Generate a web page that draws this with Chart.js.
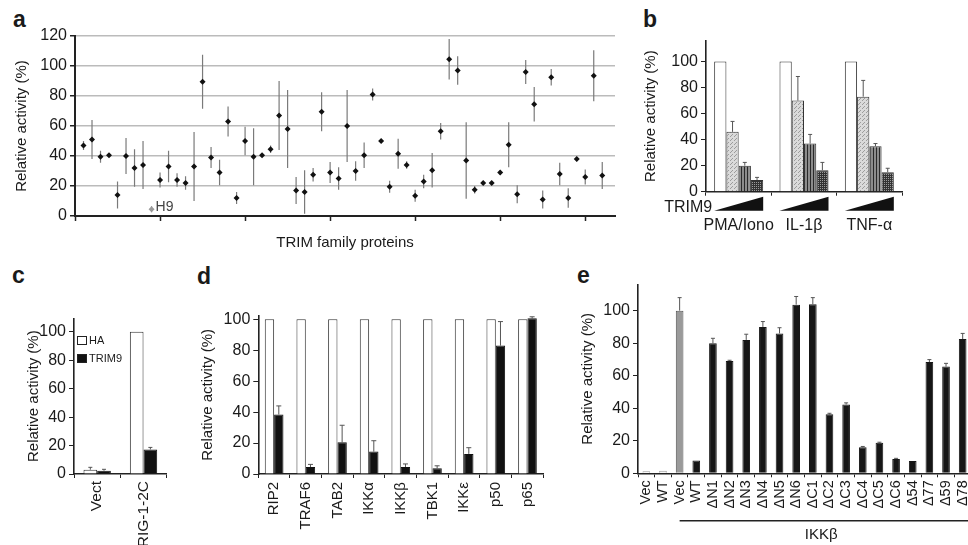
<!DOCTYPE html>
<html>
<head>
<meta charset="utf-8">
<script src="https://cdn.jsdelivr.net/npm/chart.js@4.4.0/dist/chart.umd.min.js"></script>
<style>
html, body { margin: 0; padding: 0; background: #fff; overflow: hidden; width: 968px; height: 545px; }
body { position: relative; font-family: "Liberation Sans", Arial, sans-serif; color: #1a1a1a; }
canvas { position: absolute; }
.lbl { position: absolute; font-weight: bold; font-size: 23px; line-height: 23px; }
.leg { position: absolute; font-size: 11px; line-height: 11px; display: flex; align-items: center; }
.leg i { display: inline-block; width: 8px; height: 7px; border: 1px solid #222; margin-right: 2px; }
</style>
</head>
<body>
<div class="lbl" style="left:13px;top:8px">a</div>
<div class="lbl" style="left:643px;top:8px">b</div>
<div class="lbl" style="left:12px;top:264px">c</div>
<div class="lbl" style="left:197px;top:265px">d</div>
<div class="lbl" style="left:577px;top:264px">e</div>

<canvas id="ca" style="left:0;top:0" width="630" height="252"></canvas>
<canvas id="cb" style="left:630px;top:0" width="338" height="250"></canvas>
<canvas id="cc" style="left:0;top:260px" width="180" height="285"></canvas>
<canvas id="cd" style="left:170px;top:260px" width="380" height="285"></canvas>
<canvas id="ce" style="left:550px;top:260px" width="425" height="285"></canvas>

<div class="leg" style="left:77px;top:335px"><i style="background:#fff"></i>HA</div>
<div class="leg" style="left:77px;top:353px"><i style="background:#111"></i>TRIM9</div>

<script>
// panel a - TRIM screen
const aMeans = [47, 51, 39.5, 40.5, 14, 40, 32, 34, 4.5, 24, 33, 24, 22, 33, 89.5, 39, 29, 63, 12, 50,
  39.5, 40.5, 44.5, 67, 58, 17, 16, 27.5, 69.5, 29, 25, 60, 30, 40.5, 81, 50, 19.5, 41.5, 34, 13.5,
  23, 30.5, 56.5, 104.5, 97, 37, 17.5, 22, 22, 29, 47.5, 14.5, 96, 74.5, 11, 92.5, 28, 12, 38, 26, 93.5, 27];
const aErrs = [3, 13, 4, 1, 9, 12, 12.5, 16, 2, 5, 10.5, 4.5, 4.5, 23, 18, 7, 8.5, 10, 4, 9.5,
  19, 1, 2.5, 23, 26, 9, 14.5, 4.5, 13, 7, 7.5, 24, 6.5, 8.5, 4, 1, 4, 10, 2.5, 4,
  4.5, 11.5, 5.5, 13.5, 9.5, 25.5, 2.5, 1, 1, 1.5, 15, 6, 8, 11.5, 6, 5.5, 7.5, 6.5, 1.5, 5, 17, 9];
const aMarkIndex = 8;
const aMarkLabel = 'H9';

// panel b - TRIM9 dose
const bLabels = ['PMA/Iono', 'IL-1\u03b2', 'TNF-\u03b1'];
const bDose0 = [100, 100, 100];
const bDose1 = [46, 70, 73];
const bDose2 = [20, 37, 35];
const bDose3 = [9, 16.5, 15];
const bErr1 = [8, 18.5, 12.5];
const bErr2 = [2.5, 7, 2];
const bErr3 = [2, 6, 3];

// panel c
const cLabels = ['Vect', 'RIG-1-2C'];
const cHA = [3, 100];
const cTRIM9 = [2.3, 17.3];
const cHAErr = [1.7, 0];
const cTRIM9Err = [1, 1.4];

// panel d
const dLabels = ['RIP2', 'TRAF6', 'TAB2', 'IKK\u03b1', 'IKK\u03b2', 'TBK1', 'IKK\u03b5', 'p50', 'p65'];
const dHA = [100, 100, 100, 100, 100, 100, 100, 100, 100];
const dTRIM9 = [38.5, 4.5, 20.5, 14.5, 4.5, 3.7, 13, 83, 100.6];
const dTRIM9Err = [5.5, 1.7, 11, 7, 2, 1.6, 4, 15.5, 1];

// panel e - IKKb mutants
const eLabels = ['Vec', 'WT', 'Vec', 'WT', '\u0394N1', '\u0394N2', '\u0394N3', '\u0394N4', '\u0394N5', '\u0394N6',
  '\u0394C1', '\u0394C2', '\u0394C3', '\u0394C4', '\u0394C5', '\u0394C6', '\u039454', '\u039477', '\u039459', '\u039478'];
const eValues = [1.2, 1.5, 100, 7.8, 80, 69, 82, 90, 86, 103.7, 104, 36.3, 42.3, 16, 18.8, 8.8, 7.6, 68.4, 65.6, 82.5];
const eErrs = [0, 0, 8, 0, 3, 0.5, 3.5, 3.3, 3.5, 5, 4, 0.6, 1, 0.5, 0.3, 0.4, 0, 1.5, 2, 3.5];
const eGroupStart = 2;
const eGroupName = 'IKK\u03b2';

Chart.defaults.font.family = '"Liberation Sans", Arial, Helvetica, sans-serif';
Chart.defaults.font.size = 15;
Chart.defaults.color = '#1a1a1a';
Chart.defaults.animation = false;
Chart.defaults.plugins.legend.display = false;
Chart.defaults.plugins.tooltip.enabled = false;

const fixW = w => s => { s.width = w; s.paddingTop = 0; s.paddingBottom = 0; s.paddingLeft = 0; s.paddingRight = 0; };
const fixH = h => s => { s.height = h; s.paddingTop = 0; s.paddingBottom = 0; s.paddingLeft = 0; s.paddingRight = 0; };
const axisBorder = { color: '#222', width: 1.6 };
const yTicks = { stepSize: 20, includeBounds: false, padding: 3, font: { size: 16 } };
const yTitle = pad => ({ display: true, text: 'Relative activity (%)', color: '#1a1a1a', font: { size: 15 }, padding: { top: pad, bottom: 0 } });

// error bars from the data, drawn through the y scale
const errorBars = {
  id: 'errorBars',
  beforeDatasetsDraw(chart) {
    const ctx = chart.ctx, y = chart.scales.y;
    chart.data.datasets.forEach((ds, i) => {
      if (!ds.errors) return;
      const meta = chart.getDatasetMeta(i);
      ctx.save();
      ctx.strokeStyle = ds.errorColor || '#444';
      ctx.lineWidth = ds.errorWidth || 1;
      meta.data.forEach((el, j) => {
        const e = ds.errors[j];
        if (!e) return;
        const raw = ds.data[j];
        const v = typeof raw === 'object' ? raw.y : raw;
        const top = y.getPixelForValue(v + e);
        const bot = ds.errorBoth ? y.getPixelForValue(v - e) : el.y;
        ctx.beginPath();
        ctx.moveTo(el.x, bot);
        ctx.lineTo(el.x, top);
        if (ds.errorCap) {
          ctx.moveTo(el.x - ds.errorCap, top);
          ctx.lineTo(el.x + ds.errorCap, top);
        }
        ctx.stroke();
      });
      ctx.restore();
    });
  }
};

const markLabel = {
  id: 'markLabel',
  afterDatasetsDraw(chart) {
    const el = chart.getDatasetMeta(0).data[aMarkIndex];
    const ctx = chart.ctx;
    ctx.save();
    ctx.fillStyle = '#444';
    ctx.font = '14px "Liberation Sans", Arial';
    ctx.textBaseline = 'middle';
    ctx.fillText(aMarkLabel, el.x + 4, el.y - 2.5);
    ctx.restore();
  }
};

// a
new Chart(document.getElementById('ca'), {
  type: 'scatter',
  data: {
    datasets: [{
      data: aMeans.map((v, i) => ({ x: i + 1, y: v })),
      errors: aErrs, errorBoth: true, errorColor: '#7a7a7a', errorWidth: 1.2,
      pointStyle: 'rectRot', pointRadius: 3, pointBorderWidth: 0,
      pointBackgroundColor: c => c.dataIndex === aMarkIndex ? '#9a9a9a' : '#111'
    }]
  },
  options: {
    responsive: false, devicePixelRatio: 1,
    layout: { padding: { top: 36, right: 15, left: 0, bottom: 0 } },
    scales: {
      x: {
        type: 'linear', min: 0, max: 63.5, afterFit: fixH(36),
        ticks: { display: false, stepSize: 10, includeBounds: false },
        grid: { drawOnChartArea: false, tickLength: 5, tickColor: '#222', tickWidth: 1.5 },
        border: { color: '#222', width: 2 },
        title: { display: true, text: 'TRIM family proteins', color: '#1a1a1a', font: { size: 15 }, padding: { top: 0, bottom: 0 } }
      },
      y: {
        min: 0, max: 120, afterFit: fixW(75),
        ticks: { stepSize: 20, padding: 3, font: { size: 16 } },
        grid: { color: '#bbbbbb', lineWidth: 1.5, tickLength: 5, tickColor: '#222' },
        border: { color: '#222', width: 2 },
        title: yTitle(13)
      }
    }
  },
  plugins: [errorBars, markLabel]
});

// b
const cbEl = document.getElementById('cb');
const cbCtx = cbEl.getContext('2d');
function makePattern(size, draw) {
  const c = document.createElement('canvas');
  c.width = size; c.height = size;
  draw(c.getContext('2d'));
  return cbCtx.createPattern(c, 'repeat');
}
const bFills = [
  '#ffffff',
  makePattern(4, g => { g.fillStyle = '#dadada'; g.fillRect(0, 0, 4, 4); g.fillStyle = '#9c9c9c'; g.fillRect(0, 0, 1, 1); g.fillRect(2, 2, 1, 1); g.fillRect(1, 3, 1, 1); }),
  makePattern(3, g => { g.fillStyle = '#8c8c8c'; g.fillRect(0, 0, 3, 3); g.fillStyle = '#2a2a2a'; g.fillRect(0, 0, 1, 3); }),
  makePattern(2, g => { g.fillStyle = '#333'; g.fillRect(0, 0, 2, 2); g.fillStyle = '#9a9a9a'; g.fillRect(0, 0, 1, 1); })
];
const bSeries = [bDose0, bDose1, bDose2, bDose3];
const bErrors = [null, bErr1, bErr2, bErr3];

const wedges = {
  id: 'wedges',
  afterDraw(chart) {
    const x = chart.scales.x, ctx = chart.ctx, b = chart.chartArea.bottom;
    const half = x.width / bLabels.length * 0.75 / 2;
    ctx.save();
    ctx.fillStyle = '#111';
    bLabels.forEach((l, i) => {
      const c = x.getPixelForValue(i);
      ctx.beginPath();
      ctx.moveTo(c - half, b + 19);
      ctx.lineTo(c + half, b + 5);
      ctx.lineTo(c + half, b + 19);
      ctx.closePath();
      ctx.fill();
    });
    ctx.font = '16px "Liberation Sans", Arial';
    ctx.textAlign = 'right';
    ctx.textBaseline = 'middle';
    ctx.fillStyle = '#1a1a1a';
    ctx.fillText('TRIM9', x.getPixelForValue(0) - half - 2, b + 16);
    ctx.restore();
  }
};

new Chart(cbEl, {
  type: 'bar',
  data: {
    labels: bLabels,
    datasets: bSeries.map((vals, k) => ({
      data: vals, errors: bErrors[k], errorCap: 2, errorColor: '#555',
      backgroundColor: bFills[k], borderColor: '#333', borderWidth: 1,
      categoryPercentage: 0.75, barPercentage: 1
    }))
  },
  options: {
    responsive: false, devicePixelRatio: 1,
    layout: { padding: { top: 40.7, right: 66, left: 0, bottom: 0 } },
    scales: {
      x: {
        afterFit: fixH(58.3),
        ticks: { padding: 20, maxRotation: 0, minRotation: 0, autoSkip: false, font: { size: 16 } },
        grid: { drawOnChartArea: false, tickLength: 4, tickColor: '#222' },
        border: axisBorder
      },
      y: {
        min: 0, max: 116, afterFit: fixW(76),
        ticks: yTicks,
        grid: { drawOnChartArea: false, tickLength: 5, tickColor: '#222' },
        border: axisBorder,
        title: yTitle(11.7)
      }
    }
  },
  plugins: [errorBars, wedges]
});

// c
new Chart(document.getElementById('cc'), {
  type: 'bar',
  data: {
    labels: cLabels,
    datasets: [
      { data: cHA, errors: cHAErr, errorCap: 2, errorColor: '#555', backgroundColor: '#fff', borderColor: '#333', borderWidth: 1, categoryPercentage: 0.59, barPercentage: 1 },
      { data: cTRIM9, errors: cTRIM9Err, errorCap: 2, errorColor: '#555', backgroundColor: '#111', borderColor: '#111', borderWidth: 1, categoryPercentage: 0.59, barPercentage: 1 }
    ]
  },
  options: {
    responsive: false, devicePixelRatio: 1,
    layout: { padding: { top: 58.3, right: 13.3, left: 0, bottom: 0 } },
    scales: {
      x: {
        afterFit: fixH(71),
        ticks: { padding: 3, maxRotation: 90, minRotation: 90, autoSkip: false, font: { size: 15.5 } },
        grid: { drawOnChartArea: false, tickLength: 4, tickColor: '#222' },
        border: axisBorder
      },
      y: {
        min: 0, max: 109.5, afterFit: fixW(74),
        ticks: yTicks,
        grid: { drawOnChartArea: false, tickLength: 5, tickColor: '#222' },
        border: axisBorder,
        title: yTitle(25)
      }
    }
  },
  plugins: [errorBars]
});

// d
new Chart(document.getElementById('cd'), {
  type: 'bar',
  data: {
    labels: dLabels,
    datasets: [
      { data: dHA, backgroundColor: '#fff', borderColor: '#333', borderWidth: 1, categoryPercentage: 0.59, barPercentage: 1 },
      { data: dTRIM9, errors: dTRIM9Err, errorCap: 2.5, errorColor: '#555', backgroundColor: '#111', borderColor: '#111', borderWidth: 1, categoryPercentage: 0.59, barPercentage: 1 }
    ]
  },
  options: {
    responsive: false, devicePixelRatio: 1,
    layout: { padding: { top: 55.7, right: 6.7, left: 0, bottom: 0 } },
    scales: {
      x: {
        afterFit: fixH(71),
        ticks: { padding: 4, maxRotation: 90, minRotation: 90, autoSkip: false },
        grid: { drawOnChartArea: false, tickLength: 4, tickColor: '#222' },
        border: axisBorder
      },
      y: {
        min: 0, max: 102.3, afterFit: fixW(88.3),
        ticks: yTicks,
        grid: { drawOnChartArea: false, tickLength: 5, tickColor: '#222' },
        border: axisBorder,
        title: yTitle(29)
      }
    }
  },
  plugins: [errorBars]
});

// e
const groupLine = {
  id: 'groupLine',
  afterDraw(chart) {
    const x = chart.scales.x, ctx = chart.ctx, b = chart.chartArea.bottom;
    const x0 = x.getPixelForValue(eGroupStart);
    const x1 = x.getPixelForValue(eLabels.length - 1);
    ctx.save();
    ctx.strokeStyle = '#222';
    ctx.lineWidth = 1.5;
    ctx.beginPath();
    ctx.moveTo(x0, b + 47.4);
    ctx.lineTo(x1 + 20, b + 47.4);
    ctx.stroke();
    ctx.fillStyle = '#1a1a1a';
    ctx.font = '15px "Liberation Sans", Arial';
    ctx.textAlign = 'center';
    ctx.textBaseline = 'middle';
    ctx.fillText(eGroupName, (x0 + x1) / 2, b + 62);
    ctx.restore();
  }
};

new Chart(document.getElementById('ce'), {
  type: 'bar',
  data: {
    labels: eLabels,
    datasets: [{
      data: eValues, errors: eErrs, errorCap: 2, errorColor: '#555',
      backgroundColor: c => c.dataIndex < 2 ? '#f4f4f4' : (c.dataIndex === 2 ? '#9a9a9a' : '#161616'),
      borderColor: c => c.dataIndex < 2 ? '#999' : (c.dataIndex === 2 ? '#555' : '#161616'),
      borderWidth: 1, categoryPercentage: 1, barPercentage: 0.46
    }]
  },
  options: {
    responsive: false, devicePixelRatio: 1,
    layout: { padding: { top: 24.3, right: 4, left: 0, bottom: 0 } },
    scales: {
      x: {
        afterFit: fixH(71.7),
        ticks: { padding: 3, maxRotation: 90, minRotation: 90, autoSkip: false, font: { size: 14.5 } },
        grid: { drawOnChartArea: false, tickLength: 4, tickColor: '#222' },
        border: axisBorder
      },
      y: {
        min: 0, max: 116.2, afterFit: fixW(88),
        ticks: yTicks,
        grid: { drawOnChartArea: false, tickLength: 5, tickColor: '#222' },
        border: axisBorder,
        title: yTitle(28.5)
      }
    }
  },
  plugins: [errorBars, groupLine]
});
</script>
</body>
</html>
